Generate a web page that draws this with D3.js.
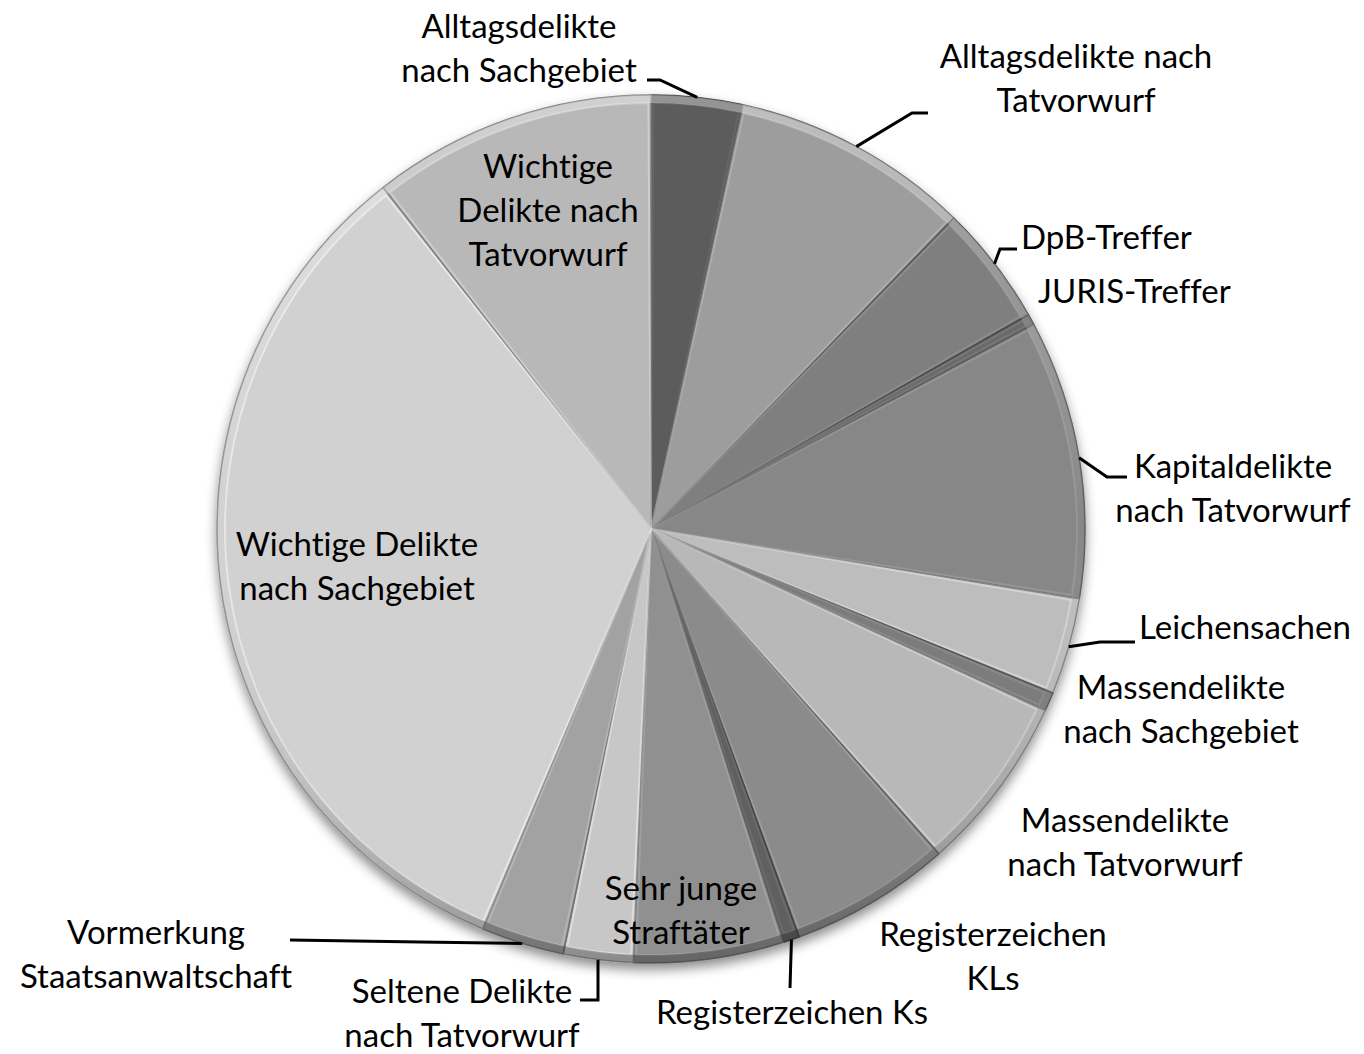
<!DOCTYPE html>
<html>
<head>
<meta charset="utf-8">
<script src="https://cdn.jsdelivr.net/npm/d3@7"></script>
<style>
  body { margin: 0; background: #fff; }
  text { font-family: Lato, "Open Sans", sans-serif; fill: #000; font-variant-ligatures: none; }
</style>
</head>
<body>
<div id="chart"></div>
<script>
//categories in clockwise order, starting at 12 o'clock
const categories = [
  "Alltagsdelikte nach Sachgebiet",
  "Alltagsdelikte nach Tatvorwurf",
  "DpB-Treffer",
  "JURIS-Treffer",
  "Kapitaldelikte nach Tatvorwurf",
  "Leichensachen",
  "Massendelikte nach Sachgebiet",
  "Massendelikte nach Tatvorwurf",
  "Registerzeichen KLs",
  "Registerzeichen Ks",
  "Sehr junge Straftäter",
  "Seltene Delikte nach Tatvorwurf",
  "Vormerkung Staatsanwaltschaft",
  "Wichtige Delikte nach Sachgebiet",
  "Wichtige Delikte nach Tatvorwurf"
];

//share in percent
const values = [3.4, 8.9, 4.5, 0.4, 10.4, 3.6, 0.7, 6.6, 6.0, 0.6, 5.6, 2.6, 3.1, 33.1, 10.6];

//label text, line by line
const labelLines = [
  ["Alltagsdelikte", "nach Sachgebiet"],
  ["Alltagsdelikte nach", "Tatvorwurf"],
  ["DpB-Treffer"],
  ["JURIS-Treffer"],
  ["Kapitaldelikte", "nach Tatvorwurf"],
  ["Leichensachen"],
  ["Massendelikte", "nach Sachgebiet"],
  ["Massendelikte", "nach Tatvorwurf"],
  ["Registerzeichen", "KLs"],
  ["Registerzeichen Ks"],
  ["Sehr junge", "Straftäter"],
  ["Seltene Delikte", "nach Tatvorwurf"],
  ["Vormerkung", "Staatsanwaltschaft"],
  ["Wichtige Delikte", "nach Sachgebiet"],
  ["Wichtige", "Delikte nach", "Tatvorwurf"]
];

const greys = [
  "#5b5b5b", "#9d9d9d", "#7f7f7f", "#6b6b6b", "#878787",
  "#bdbdbd", "#7c7c7c", "#b8b8b8", "#8b8b8b", "#616161",
  "#909090", "#c7c7c7", "#a2a2a2", "#d1d1d1", "#b8b8b8"
];

const width = 1364;
const height = 1054;
const cx = 651;
const cy = 529;
const radius = 434;
const lineGap = 44;

//label placement: x, first baseline, anchor, leader bend points (leader starts on the slice rim)
const labelLayout = [
  { x: 519, y: 38, anchor: "middle", leader: [[660, 80], [647, 80]] },
  { x: 1076, y: 68, anchor: "middle", leader: [[912, 113], [928, 113]] },
  { x: 1021, y: 249, anchor: "start", leader: [[1000, 249], [1017, 249]] },
  { x: 1038, y: 303, anchor: "start", leader: null },
  { x: 1233, y: 478, anchor: "middle", leader: [[1107, 477], [1127, 477]] },
  { x: 1139, y: 639, anchor: "start", leader: [[1100, 642], [1135, 642]] },
  { x: 1181, y: 699, anchor: "middle", leader: null },
  { x: 1125, y: 832, anchor: "middle", leader: null },
  { x: 993, y: 946, anchor: "middle", leader: null },
  { x: 792, y: 1024, anchor: "middle", leader: [[790, 988]] },
  { x: 681, y: 900, anchor: "middle", leader: null },
  { x: 462, y: 1003, anchor: "middle", leader: [[598, 1000], [580, 1000]] },
  { x: 156, y: 944, anchor: "middle", leader: [[420, 942], [290, 940]] },
  { x: 357, y: 556, anchor: "middle", leader: null },
  { x: 548, y: 178, anchor: "middle", leader: null }
];

const data = categories.map((name, i) => ({ name, value: values[i], color: greys[i], i }));

const svg = d3.select("#chart")
  .append("svg")
  .attr("width", width)
  .attr("height", height);

const defs = svg.append("defs");

//soft shadow under the pie
const shadow = defs.append("filter")
  .attr("id", "shadow")
  .attr("x", "-20%").attr("y", "-20%")
  .attr("width", "140%").attr("height", "140%");
shadow.append("feDropShadow")
  .attr("dx", 0).attr("dy", 6)
  .attr("stdDeviation", 6)
  .attr("flood-color", "#000")
  .attr("flood-opacity", 0.45);

//rim light: bright at the top, dark at the bottom
const rimGrad = defs.append("linearGradient")
  .attr("id", "rim")
  .attr("gradientUnits", "userSpaceOnUse")
  .attr("x1", 0).attr("y1", -radius)
  .attr("x2", 0).attr("y2", radius);
rimGrad.append("stop").attr("offset", "0%").attr("stop-color", "#fff").attr("stop-opacity", 0.35);
rimGrad.append("stop").attr("offset", "50%").attr("stop-color", "#fff").attr("stop-opacity", 0);
rimGrad.append("stop").attr("offset", "100%").attr("stop-color", "#000").attr("stop-opacity", 0.3);

const pie = d3.pie()
  .value((d) => d.value)
  .sort(null);

const arcs = pie(data);

const arc = d3.arc().innerRadius(0).outerRadius(radius);
const rimArc = d3.arc().innerRadius(radius - 8).outerRadius(radius);
//slightly inset copy of each slice, used for the bevel sheen
const insetArc = d3.arc()
  .innerRadius(0)
  .outerRadius(radius - 8)
  .padAngle(0.012)
  .padRadius(radius);

const g = svg.append("g")
  .attr("transform", `translate(${cx},${cy})`);

const pieGroup = g.append("g").attr("filter", "url(#shadow)");

//base slices
pieGroup.selectAll("path.slice")
  .data(arcs)
  .join("path")
  .attr("class", "slice")
  .attr("d", arc)
  .attr("fill", (d) => d.data.color)
  .attr("stroke", (d) => d3.color(d.data.color).darker(1))
  .attr("stroke-width", 1.5)
  .attr("stroke-linejoin", "round");

//bevel sheen inside the slice edges
g.selectAll("path.bevel")
  .data(arcs)
  .join("path")
  .attr("class", "bevel")
  .attr("d", insetArc)
  .attr("fill", "none")
  .attr("stroke", (d) => d3.color(d.data.color).brighter(0.6))
  .attr("stroke-opacity", 0.45)
  .attr("stroke-width", 2);

//rim band
g.selectAll("path.rim")
  .data(arcs)
  .join("path")
  .attr("class", "rim")
  .attr("d", rimArc)
  .attr("fill", "url(#rim)")
  .attr("stroke", "none");

//labels
const labels = svg.append("g");

arcs.forEach((d) => {
  const lay = labelLayout[d.data.i];
  const lines = labelLines[d.data.i];

  if (lay.leader) {
    const mid = (d.startAngle + d.endAngle) / 2;
    const start = [cx + radius * Math.sin(mid), cy - radius * Math.cos(mid)];
    labels.append("path")
      .attr("d", d3.line()([start, ...lay.leader]))
      .attr("fill", "none")
      .attr("stroke", "#000")
      .attr("stroke-width", 3);
  }

  const t = labels.append("text")
    .attr("text-anchor", lay.anchor)
    .attr("font-size", 33);
  lines.forEach((line, k) => {
    t.append("tspan")
      .attr("x", lay.x)
      .attr("y", lay.y + k * lineGap)
      .text(line);
  });
});
</script>
</body>
</html>
